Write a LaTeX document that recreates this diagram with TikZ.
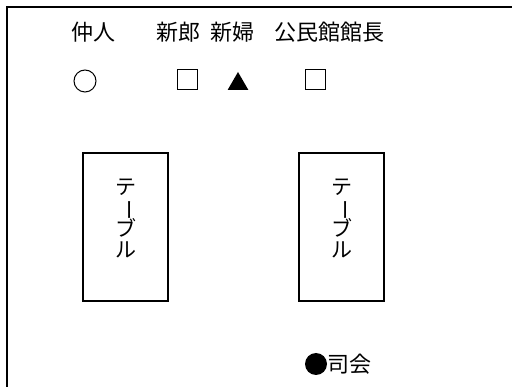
\documentclass[tikz,border=0pt]{standalone}
\usepackage{fontspec}
\newfontfamily\cjk{Noto Sans CJK JP}
\usetikzlibrary{shapes.geometric}
\newcommand\tatebar{\smash{\rotatebox[origin=c]{-90}{ー}}\vphantom{テ}}
\begin{document}
\begin{tikzpicture}
[x=1pt,y=-1pt,inner sep=0pt,
role/.style={font=\cjk\fontsize{22}{22}\selectfont},
seat/.style={draw, line width=1pt, minimum size=20pt},
guest/.style={draw, circle, line width=1pt, minimum size=22pt},
bride/.style={fill=black, regular polygon, regular polygon sides=3, minimum size=24pt},
host/.style={fill=black, circle, minimum size=22pt},
desk/.style={draw, line width=1.2pt, minimum width=85pt, minimum height=148pt},
desktext/.style={font=\cjk\fontsize{21}{21}\selectfont, align=center}]
\useasboundingbox (0,0) rectangle (512,387);

% frame
\draw[line width=1.5pt] (512,7) -- (7,7) -- (7,387);

% roles
\node[role] (n1) at (93.5,32) {仲人};
\node[role] (n2) at (178.5,32) {新郎};
\node[role] (n3) at (232.5,32) {新婦};
\node[role] (n4) at (329,32) {公民館館長};

% seats
\node[guest] (s1) at (85,81) {};
\node[seat] (s2) at (187,80) {};
\node[bride] (s3) at (238,84) {};
\node[seat] (s4) at (315,80) {};

% tables
\node[desk] (t1) at (125.5,227) {};
\node[desk] (t2) at (341.5,227) {};
\node[desktext] (l1) at (126,218) {テ\\\tatebar\\ブ\\ル};
\node[desktext] (l2) at (342,218) {テ\\\tatebar\\ブ\\ル};

% MC
\node[host] (mc) at (316,364) {};
\node[role, anchor=west] (mcl) at (mc.east) {司会};
\end{tikzpicture}
\end{document}
